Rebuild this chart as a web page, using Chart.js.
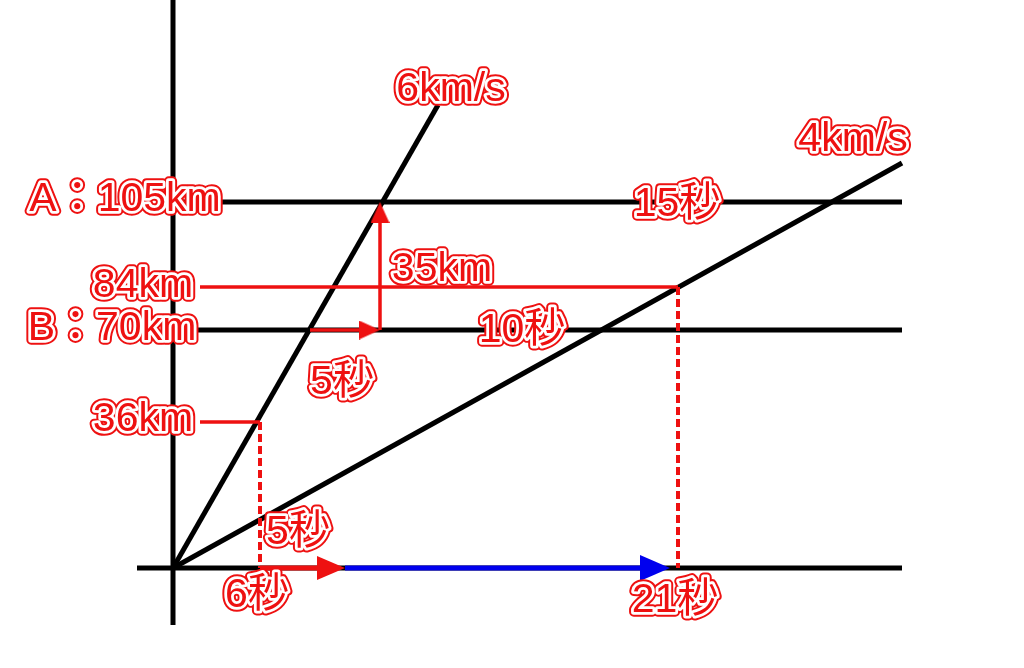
<!DOCTYPE html>
<html>
<head>
<meta charset="utf-8">
<script src="https://cdn.jsdelivr.net/npm/chart.js@4.4.1/dist/chart.umd.min.js"></script>
<style>
  html, body { margin: 0; padding: 0; background: #ffffff; }
  #wrap { width: 1024px; height: 668px; }
</style>
</head>
<body>
<div id="wrap"><canvas id="c" width="1024" height="668"></canvas></div>
<script>
// Diagram units (schematic): origin at the axes crossing.
const originX = 173, originY = 568;           // canvas position of the origin
// Horizontal levels (labels and heights in diagram units)
const levelNames   = ['A：105km', 'B：70km'];
const levelHeights = [366, 238];
const lineEndX     = 729;                      // right end of black lines
// Speed lines (end points)
const speedNames = ['6km/s', '4km/s'];
const speedEndX  = [265, 729];
const speedEndY  = [463, 405];
// Red reference lines
const km84Y = 281, km84X = [27, 505];
const km36Y = 146, km36X = [27, 87];
// Time marks on the time axis
const timeMarks = [87, 505];                  // 6秒, 21秒
// Arrows
const redArrowBottom = [87, 172];
const blueArrowBottom = [172, 497];
const redArrowB = [137, 207];
const redArrowUpX = 207, redArrowUpY = [238, 366];

// Text labels
const labelTexts = ['6km/s', '4km/s', 'A：105km', '84km', 'B：70km', '36km', '35km', '15秒', '10秒', '5秒', '5秒', '6秒', '21秒'];
const labelX     = [278, 680, -48, -30, -61, -30, 269, 504, 349, 169, 125, 84, 502];
const labelY     = [478, 428, 368, 282, 239, 148, 298, 363, 237, 185, 35, -28, -33];

const BLACK = '#000000', RED = '#ee1111', BLUE = '#0000ee';

function seg(x1, y1, x2, y2) { return [{x: x1, y: y1}, {x: x2, y: y2}]; }
function lineDs(data, color, width, order, dash) {
  return { data, borderColor: color, borderWidth: width, pointRadius: 0, showLine: true,
           borderDash: dash || [], order, borderCapStyle: 'butt', fill: false, tension: 0 };
}

// Arrowhead images (pointing right)
function head(len, wid, color) {
  const cv = document.createElement('canvas');
  cv.width = len; cv.height = wid;
  const g = cv.getContext('2d');
  g.fillStyle = color;
  g.beginPath(); g.moveTo(0, 0); g.lineTo(len, wid / 2); g.lineTo(0, wid); g.closePath(); g.fill();
  return cv;
}
const headSmallRed = head(21, 19, RED);
const headBigRed = head(28, 24, RED);
const headBigBlue = head(30, 26, BLUE);

const headPts = [
  {x: redArrowBottom[1] - 14, y: 0, img: headBigRed, rot: 0},
  {x: blueArrowBottom[1] - 15, y: 0, img: headBigBlue, rot: 0},
  {x: redArrowB[1] - 10.5, y: levelHeights[1], img: headSmallRed, rot: 0},
  {x: redArrowUpX, y: redArrowUpY[1] - 10.5, img: headSmallRed, rot: -90}
];

const datasets = [
  lineDs(seg(0, -57, 0, 568), BLACK, 5, 10),
  lineDs(seg(-36, 0, lineEndX, 0), BLACK, 5, 10),
  lineDs(seg(0, levelHeights[0], lineEndX, levelHeights[0]), BLACK, 5, 10),
  lineDs(seg(0, levelHeights[1], lineEndX, levelHeights[1]), BLACK, 5, 10),
  lineDs(seg(0, 0, speedEndX[0], speedEndY[0]), BLACK, 5, 10),
  lineDs(seg(0, 0, speedEndX[1], speedEndY[1]), BLACK, 5, 10),
  lineDs(seg(km84X[0], km84Y, km84X[1], km84Y), RED, 3.5, 5),
  lineDs(seg(km36X[0], km36Y, km36X[1], km36Y), RED, 3.5, 5),
  lineDs(seg(timeMarks[0], km36Y, timeMarks[0], 0), RED, 4, 5, [8, 4]),
  lineDs(seg(timeMarks[1], km84Y, timeMarks[1], 0), RED, 4, 5, [8, 4]),
  lineDs(seg(redArrowBottom[0], 0, redArrowBottom[1] - 20, 0), RED, 5, 3),
  lineDs(seg(blueArrowBottom[0], 0, blueArrowBottom[1] - 20, 0), BLUE, 5, 3),
  lineDs(seg(redArrowB[0], levelHeights[1], redArrowB[1] - 12, levelHeights[1]), RED, 3.5, 3),
  lineDs(seg(redArrowUpX, redArrowUpY[0], redArrowUpX, redArrowUpY[1] - 12), RED, 3.5, 3),
  { data: headPts.map(p => ({x: p.x, y: p.y})), showLine: false, order: 2,
    pointStyle: headPts.map(p => p.img), pointRotation: headPts.map(p => p.rot),
    pointRadius: 10, borderWidth: 0 }
];

const labelPlugin = {
  id: 'labels',
  afterDatasetsDraw(chart) {
    const ctx = chart.ctx, xs = chart.scales.x, ys = chart.scales.y;
    ctx.save();
    ctx.font = '41px "Liberation Sans", "Noto Sans CJK JP", sans-serif';
    ctx.textAlign = 'center';
    ctx.textBaseline = 'middle';
    ctx.lineJoin = 'round';
    labelTexts.forEach((t, i) => {
      const px = xs.getPixelForValue(labelX[i]);
      const py = ys.getPixelForValue(labelY[i]);
      ctx.strokeStyle = RED; ctx.lineWidth = 9.5; ctx.strokeText(t, px, py);
      ctx.strokeStyle = '#ffffff'; ctx.lineWidth = 5.5; ctx.strokeText(t, px, py);
      ctx.fillStyle = RED; ctx.fillText(t, px, py);
    });
    ctx.restore();
  }
};

new Chart(document.getElementById('c'), {
  type: 'scatter',
  data: { datasets },
  options: {
    responsive: false,
    animation: false,
    layout: { padding: 0, autoPadding: false },
    plugins: { legend: { display: false }, tooltip: { enabled: false } },
    scales: {
      x: { type: 'linear', display: false, min: -originX, max: 1024 - originX },
      y: { type: 'linear', display: false, min: originY - 668, max: originY }
    }
  },
  plugins: [labelPlugin]
});
</script>
</body>
</html>
